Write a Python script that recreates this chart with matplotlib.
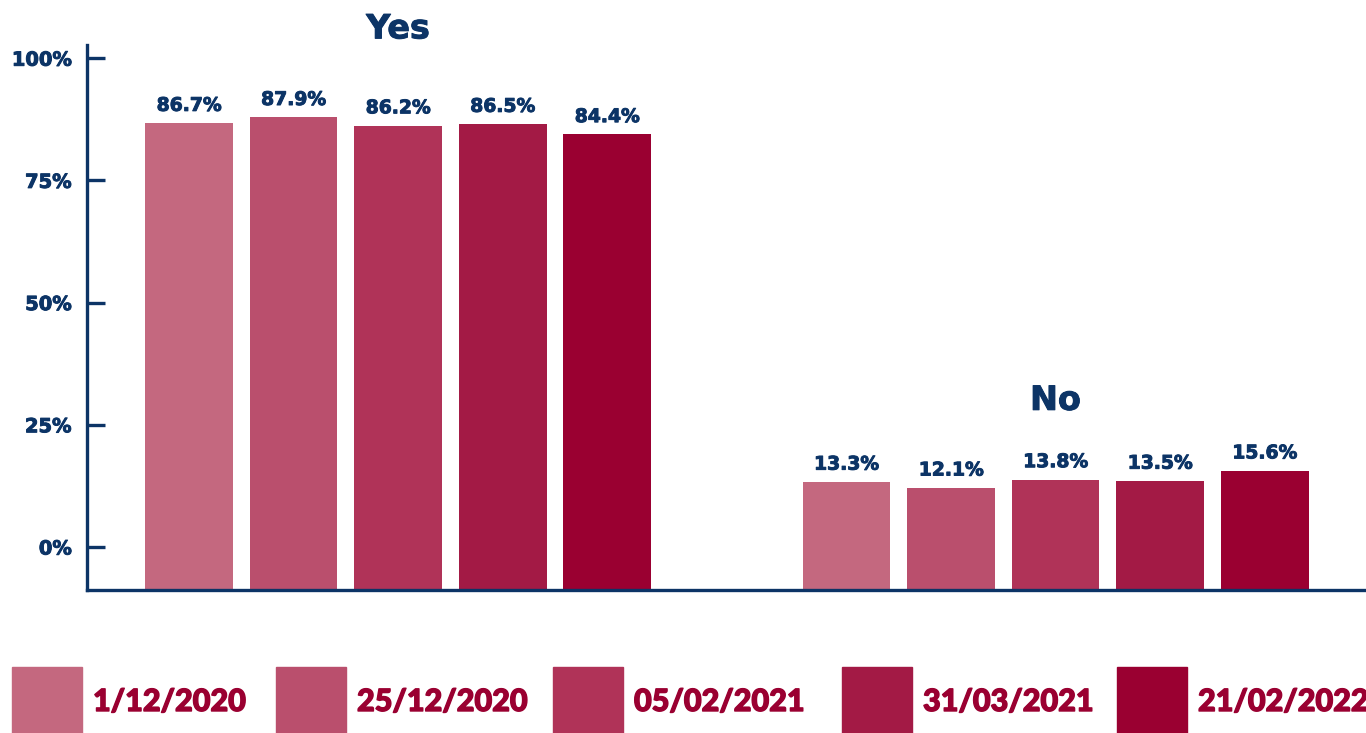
import numpy as np
import matplotlib.pyplot as plt
import matplotlib.patheffects as pe
from matplotlib.patches import Rectangle

plt.rcParams['font.family'] = ['Lato', 'DejaVu Sans']

groups = ["Yes", "No"]
dates = ["1/12/2020", "25/12/2020", "05/02/2021", "31/03/2021", "21/02/2022"]
yes_vals = [86.7, 87.9, 86.2, 86.5, 84.4]
no_vals = [13.3, 12.1, 13.8, 13.5, 15.6]
yticks = [0, 25, 50, 75, 100]
ytick_labels = ["0%", "25%", "50%", "75%", "100%"]

colors = ["#c4687f", "#ba4f6d", "#b03358", "#a31a45", "#9a0031"]
navy = "#0c3466"
crimson = "#9a0031"
num_font = "DejaVu Sans"
thick = [pe.withStroke(linewidth=0.7, foreground=navy)]

fig = plt.figure(figsize=(13.66, 7.33), dpi=100)
ax = fig.add_axes([87 / 1366, 143 / 733, 1279 / 1366, 545 / 733])

ylo, yhi = -8.8, 102.7
group_gap = 6.29
bar_w = 0.84

for g, vals in enumerate([yes_vals, no_vals]):
    x = g * group_gap + np.arange(len(vals))
    vals = np.array(vals)
    ax.bar(x, vals - ylo, bottom=ylo, width=bar_w, color=colors, zorder=2)
    for xi, v in zip(x, vals):
        ax.annotate(f"{v:.1f}%", (xi, v), xytext=(0, 6), textcoords="offset points",
                    ha="center", va="bottom", fontsize=13.5, fontweight="bold",
                    family=num_font, color=navy, path_effects=thick)
    # group title over each cluster
    title_y = 106 if g == 0 else 30
    ax.text(x.mean(), title_y, groups[g], ha="center", va="center", fontsize=24,
            fontweight="bold", family=num_font, color=navy, clip_on=False,
            path_effects=thick)

ax.set_xlim(-0.976, 11.26)
ax.set_ylim(ylo, yhi)
ax.set_yticks(yticks)
ax.set_yticklabels(ytick_labels)
ax.set_xticks([])

for side in ["top", "right"]:
    ax.spines[side].set_visible(False)
for side in ["left", "bottom"]:
    ax.spines[side].set_color(navy)
    ax.spines[side].set_linewidth(2.4)

ax.tick_params(axis="y", direction="in", length=13, width=2.4, color=navy,
               pad=11, labelsize=14, labelcolor=navy)
for lab in ax.get_yticklabels():
    lab.set_fontweight("bold")
    lab.set_family(num_font)
    lab.set_path_effects(thick)

# legend row along the bottom edge
sq_left = [12, 276, 553, 842, 1117]
for px, lab, col in zip(sq_left, dates, colors):
    fig.add_artist(Rectangle((px / 1366, 0), 70 / 1366, 66 / 733,
                             transform=fig.transFigure, color=col))
    fig.text((px + 81) / 1366, 31 / 733, lab, ha="left", va="center",
             fontsize=22, fontweight="black", color=crimson,
             path_effects=[pe.withStroke(linewidth=1.0, foreground=crimson)])

fig.savefig("out.png", dpi=100)
